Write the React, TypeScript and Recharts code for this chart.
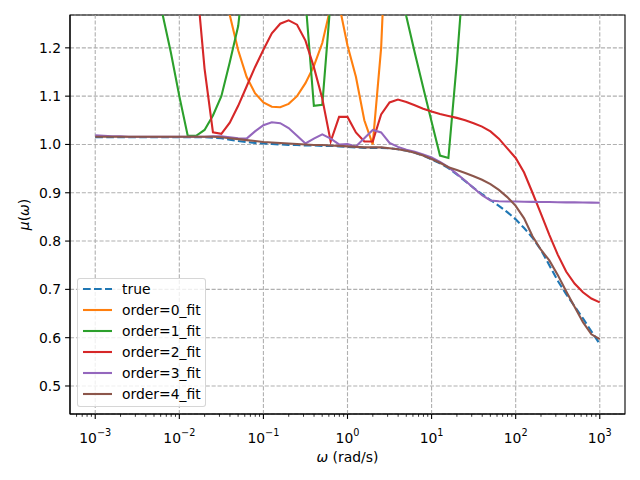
import { LineChart, Line, XAxis, YAxis, CartesianGrid, ReferenceLine, ReferenceArea, Legend } from 'recharts';

// sample grid: 10 points per decade, 1e-3 .. 1e3 rad/s
const omega = Array.from({ length: 61 }, (_, i) => 10 ** (-3 + i / 10));

const muTrue = [
  1.015, 1.015, 1.015, 1.015, 1.015, 1.015, 1.015, 1.015, 1.015, 1.015,
  1.015, 1.015, 1.015, 1.015, 1.014, 1.013, 1.010, 1.007, 1.005, 1.003,
  1.002, 1.001, 1.0, 0.999, 0.999, 0.998, 0.998, 0.997, 0.997, 0.996,
  0.995, 0.994, 0.993, 0.993, 0.993, 0.992, 0.99, 0.987, 0.983, 0.977,
  0.969, 0.961, 0.951, 0.938, 0.924, 0.91, 0.897, 0.885, 0.873, 0.86,
  0.845, 0.827, 0.807, 0.782, 0.75, 0.718, 0.69, 0.665, 0.64, 0.613,
  0.587,
];

const fit0 = [
  1.45, 1.45, 1.45, 1.45, 1.45, 1.45, 1.45, 1.45, 1.45, 1.45,
  1.45, 1.45, 1.45, 1.45, 1.45, 1.4, 1.268, 1.195, 1.14, 1.106,
  1.087, 1.078, 1.077, 1.084, 1.1, 1.127, 1.162, 1.21, 1.285, 1.29,
  1.205, 1.14, 1.05, 1.0, 1.2, 1.6, 1.6, 1.6, 1.6, 1.6,
  1.6, 1.6, 1.6, 1.6, 1.6, 1.6, 1.6, 1.6, 1.6, 1.6,
  1.6, 1.6, 1.6, 1.6, 1.6, 1.6, 1.6, 1.6, 1.6, 1.6,
  1.6,
];

const fit1 = [
  1.4, 1.4, 1.4, 1.4, 1.4, 1.4, 1.4, 1.4, 1.27, 1.19,
  1.1, 1.018, 1.018, 1.03, 1.06, 1.1, 1.17, 1.245, 1.4, 1.4,
  1.4, 1.4, 1.4, 1.4, 1.4, 1.3, 1.08, 1.082, 1.3, 1.4,
  1.4, 1.4, 1.4, 1.4, 1.4, 1.4, 1.4, 1.265, 1.19, 1.118,
  1.047, 0.977, 0.972, 1.17, 1.4, 1.4, 1.4, 1.4, 1.4, 1.4,
  1.4, 1.4, 1.4, 1.4, 1.4, 1.4, 1.4, 1.4, 1.4, 1.4,
  1.4,
];

const fit2 = [
  1.4, 1.4, 1.4, 1.4, 1.4, 1.4, 1.4, 1.4, 1.4, 1.4,
  1.4, 1.4, 1.35, 1.157, 1.025, 1.022, 1.045, 1.08, 1.12, 1.16,
  1.196, 1.23, 1.25, 1.257, 1.248, 1.215, 1.16, 1.095, 1.006, 1.057,
  1.057, 1.025, 1.006, 1.006, 1.062, 1.087, 1.093, 1.088, 1.081, 1.074,
  1.068, 1.063, 1.059, 1.055, 1.05, 1.044, 1.037, 1.027, 1.012, 0.992,
  0.972, 0.942, 0.9, 0.857, 0.813, 0.772, 0.737, 0.712, 0.694, 0.681,
  0.673,
];

const fit3 = [
  1.019, 1.018, 1.017, 1.017, 1.016, 1.016, 1.016, 1.016, 1.016, 1.016,
  1.016, 1.016, 1.016, 1.016, 1.017, 1.017, 1.015, 1.013, 1.012, 1.027,
  1.04, 1.046, 1.044, 1.034, 1.018, 1.002, 1.012, 1.021, 1.012, 1.0,
  1.001, 0.996, 1.013, 1.03, 1.025, 1.003, 0.995, 0.989, 0.985, 0.979,
  0.973, 0.964, 0.953, 0.939, 0.925, 0.91, 0.895, 0.884, 0.8825, 0.882,
  0.8818, 0.8815, 0.8812, 0.881, 0.8808, 0.8805, 0.8802, 0.88, 0.8797, 0.8795,
  0.8793,
];

const fit4 = [
  1.016, 1.016, 1.016, 1.016, 1.016, 1.016, 1.016, 1.016, 1.016, 1.016,
  1.016, 1.016, 1.016, 1.016, 1.016, 1.015, 1.013, 1.011, 1.009, 1.007,
  1.005, 1.004, 1.003, 1.002, 1.001, 1.0, 0.999, 0.999, 0.998, 0.997,
  0.996, 0.995, 0.994, 0.994, 0.994, 0.992, 0.99, 0.987, 0.983, 0.977,
  0.97, 0.962, 0.953, 0.947, 0.941, 0.934, 0.927, 0.918, 0.906, 0.891,
  0.873, 0.847, 0.81, 0.782, 0.76, 0.73, 0.696, 0.664, 0.632, 0.607,
  0.597,
];

const seriesNames = ['true', 'order=0_fit', 'order=1_fit', 'order=2_fit', 'order=3_fit', 'order=4_fit'];
const seriesColors = ['#1f77b4', '#ff7f0e', '#2ca02c', '#d62728', '#9467bd', '#8c564b'];
const seriesKeys = ['mu', 'f0', 'f1', 'f2', 'f3', 'f4'];

const yTicks = [0.5, 0.6, 0.7, 0.8, 0.9, 1.0, 1.1, 1.2];
const decades = [-3, -2, -1, 0, 1, 2, 3];
const majorTicks = decades.map(d => 10 ** d);

const X_DOMAIN = [10 ** -3.3, 10 ** 3.3];
const Y_DOMAIN = [0.442, 1.268];

const minorTicks: number[] = [];
for (let k = -4; k <= 3; k++) {
  for (let m = 2; m <= 9; m++) {
    const v = m * 10 ** k;
    if (v > X_DOMAIN[0] && v < X_DOMAIN[1]) minorTicks.push(v);
  }
}
const allXTicks = [...majorTicks, ...minorTicks].sort((a, b) => a - b);

const data = omega.map((w, i) => ({
  w,
  mu: muTrue[i],
  f0: fit0[i],
  f1: fit1[i],
  f2: fit2[i],
  f3: fit3[i],
  f4: fit4[i],
}));

const FONT = 'DejaVu Sans';
const FS = 13.9;
const GRID = '#b0b0b0';
const GRID_DASH = '4.1 1.8';
const TRUE_DASH = '7.7 3.3';

function XTick({ x, y, payload }: any) {
  const v = payload.value;
  const e = Math.log10(v);
  const major = Math.abs(e - Math.round(e)) < 1e-6;
  const exp = Math.round(e);
  return (
    <g>
      <line x1={x} x2={x} y1={y} y2={y + (major ? 4.9 : 2.8)} stroke="#000" strokeWidth={major ? 1.1 : 0.8} />
      {major && (
        <text x={x} y={y + 29} textAnchor="middle" fontFamily={FONT} fontSize={FS} fill="#000">
          <tspan>10</tspan>
          <tspan dy={-7} fontSize={9.7}>{exp < 0 ? '\u2212' + Math.abs(exp) : String(exp)}</tspan>
        </text>
      )}
    </g>
  );
}

function YTick({ x, y, payload }: any) {
  return (
    <g>
      <line x1={x - 4.9} x2={x} y1={y} y2={y} stroke="#000" strokeWidth={1.1} />
      <text x={x - 9} y={y} dy="0.36em" textAnchor="end" fontFamily={FONT} fontSize={FS} fill="#000">
        {payload.value.toFixed(1)}
      </text>
    </g>
  );
}

function LegendBox() {
  return (
    <div
      style={{
        width: 129,
        height: 129,
        boxSizing: 'border-box',
        border: '1px solid rgba(204,204,204,0.8)',
        borderRadius: 3,
        background: 'rgba(255,255,255,0.8)',
        fontFamily: FONT,
        fontSize: FS,
        color: '#000',
      }}
    >
      {seriesNames.map((name, i) => (
        <div key={name} style={{ display: 'flex', alignItems: 'center', height: 20.9 }}>
          <svg width={44} height={10} style={{ flex: 'none' }}>
            <line
              x1={5} x2={34} y1={5} y2={5}
              stroke={seriesColors[i]}
              strokeWidth={2.1}
              strokeDasharray={i === 0 ? TRUE_DASH : undefined}
            />
          </svg>
          <span style={{ whiteSpace: 'nowrap' }}>{name}</span>
        </div>
      ))}
    </div>
  );
}

export default function App() {
  return (
    <div style={{ position: 'absolute', left: 0, top: 0, width: 640, height: 480, background: '#fff' }}>
      <LineChart width={640} height={480} data={data} margin={{ top: 15, right: 15, bottom: 0, left: 0 }}>
        <CartesianGrid vertical={false} stroke={GRID} strokeDasharray={GRID_DASH} strokeWidth={1.1} />
        {majorTicks.map(t => (
          <ReferenceLine key={t} x={t} stroke={GRID} strokeDasharray={GRID_DASH} strokeWidth={1.1} />
        ))}
        <XAxis
          dataKey="w"
          type="number"
          scale="log"
          domain={X_DOMAIN}
          allowDataOverflow
          ticks={allXTicks}
          interval={0}
          tick={<XTick />}
          tickLine={false}
          tickSize={0}
          tickMargin={0}
          height={66}
          axisLine={{ stroke: '#000', strokeWidth: 1.1 }}
        />
        <YAxis
          type="number"
          domain={Y_DOMAIN}
          allowDataOverflow
          ticks={yTicks}
          interval={0}
          tick={<YTick />}
          tickLine={false}
          tickSize={0}
          tickMargin={0}
          width={70}
          axisLine={{ stroke: '#000', strokeWidth: 1.1 }}
        />
        {seriesKeys.map((k, i) => (
          <Line
            key={k}
            type="linear"
            dataKey={k}
            name={seriesNames[i]}
            stroke={seriesColors[i]}
            strokeWidth={2.1}
            strokeDasharray={i === 0 ? TRUE_DASH : undefined}
            dot={false}
            activeDot={false}
            isAnimationActive={false}
          />
        ))}
        <ReferenceArea
          x1={X_DOMAIN[0]}
          x2={X_DOMAIN[1]}
          y1={Y_DOMAIN[0]}
          y2={Y_DOMAIN[1]}
          fill="none"
          fillOpacity={0}
          stroke="#000"
          strokeWidth={1.1}
          ifOverflow="visible"
        />
        <Legend
          layout="vertical"
          align="center"
          verticalAlign="middle"
          content={() => <LegendBox />}
          wrapperStyle={{ left: 77, top: 278, width: 129, height: 129 }}
        />
      </LineChart>
      <svg
        width={640}
        height={480}
        style={{ position: 'absolute', left: 0, top: 0, pointerEvents: 'none' }}
      >
        <text x={347.5} y={462} textAnchor="middle" fontFamily={FONT} fontSize={FS} fill="#000">
          <tspan fontStyle="italic">ω</tspan> (rad/s)
        </text>
        <text
          x={0}
          y={0}
          transform="translate(29,214.5) rotate(-90)"
          textAnchor="middle"
          fontFamily={FONT}
          fontSize={FS}
          fill="#000"
        >
          <tspan fontStyle="italic">μ</tspan>(<tspan fontStyle="italic">ω</tspan>)
        </text>
      </svg>
    </div>
  );
}
